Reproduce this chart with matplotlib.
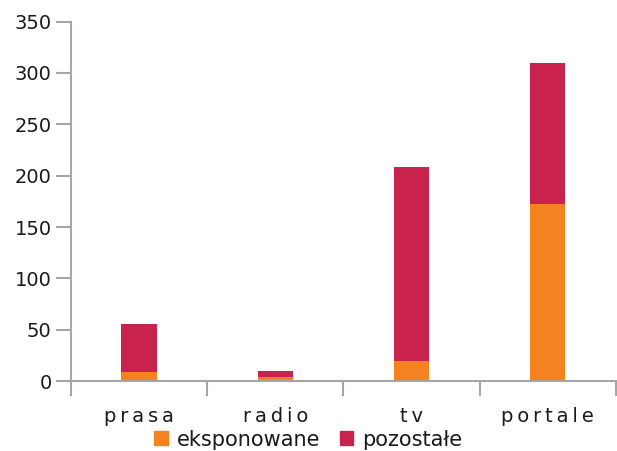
import numpy as np
import matplotlib
matplotlib.use("Agg")
import matplotlib.pyplot as plt
from matplotlib.patches import Patch

categories = ["prasa", "radio", "tv", "portale"]
eksponowane = [9, 4, 20, 172]
pozostale = [47, 6, 188, 138]
series_names = ["eksponowane", "pozostałe"]
colors = ["#f58220", "#c9224c"]
gray = "#a6a6a6"

plt.rcParams["font.family"] = ["DejaVu Sans"]

fig = plt.figure(figsize=(6.17, 4.51), dpi=100)
ax = fig.add_axes([0.115, 0.155, 0.883, 0.797])

x = np.arange(len(categories))
ax.bar(x, eksponowane, width=0.26, color=colors[0])
ax.bar(x, pozostale, width=0.26, bottom=eksponowane, color=colors[1])

ax.set_xlim(-0.5, len(categories) - 0.5)
ax.set_ylim(0, 350)
ax.set_yticks(np.arange(0, 351, 50))
ax.tick_params(axis="y", length=11, width=1.5, color=gray, labelsize=14,
               labelcolor="#1a1a1a", pad=3)

# category boundaries as ticks, labels centred between them
ax.set_xticks(np.arange(-0.5, len(categories)), minor=False)
ax.set_xticklabels([])
ax.set_xticks(x, minor=True)
ax.set_xticklabels(["\u2009".join(c) for c in categories], minor=True)
ax.tick_params(axis="x", which="major", length=11, width=1.5, color=gray)
ax.tick_params(axis="x", which="minor", length=0, labelsize=14,
               labelcolor="#1a1a1a", pad=19)

for s in ["top", "right"]:
    ax.spines[s].set_visible(False)
for s in ["left", "bottom"]:
    ax.spines[s].set_color(gray)
    ax.spines[s].set_linewidth(1.5)

handles = [Patch(color=c, label=n) for c, n in zip(colors, series_names)]
leg = fig.legend(handles=handles, loc="center", bbox_to_anchor=(0.5, 0.025),
                 ncol=2, frameon=False, fontsize=15, handlelength=0.65,
                 handleheight=0.65, handletextpad=0.45, columnspacing=0.9,
                 borderpad=0)
for t in leg.get_texts():
    t.set_color("#1a1a1a")

fig.savefig("out.png", dpi=100)
